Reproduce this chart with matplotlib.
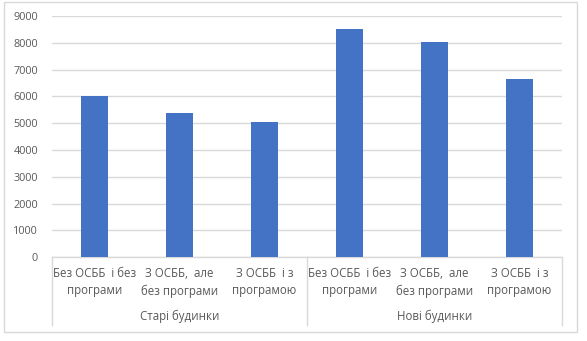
import matplotlib
matplotlib.use("Agg")
import matplotlib.pyplot as plt
from matplotlib.patches import Rectangle
from matplotlib.lines import Line2D
import matplotlib.transforms as mtransforms

plt.rcParams['font.family'] = ['Open Sans', 'DejaVu Sans']

categories = ["Без ОСББ  і без\nпрограми", "З ОСББ,  але\nбез програми", "З ОСББ  і з\nпрограмою"] * 2
groups = ["Старі будинки", "Нові будинки"]
values = [6010, 5400, 5040, 8530, 8020, 6650]
yticks = list(range(0, 9001, 1000))

W, H = 587, 341
fig = plt.figure(figsize=(W / 100, H / 100), dpi=100)

def fx(px):
    return px / W

def fy(py):
    return 1 - py / H

ax = fig.add_axes([fx(52), fy(257.3), fx(562) - fx(52), fy(16) - fy(257.3)])

grey = "#d9d9d9"
text_col = "#595959"
bar_col = "#4472c4"

x = list(range(len(values)))
ax.bar(x, values, width=0.31, color=bar_col, zorder=3)
ax.set_xlim(-0.5, len(values) - 0.5)
ax.set_ylim(0, 9000)
ax.set_yticks(yticks)
ax.set_yticklabels([str(v) for v in yticks], color=text_col, fontsize=7.8)
ax.tick_params(axis='y', length=0, pad=10)
ax.yaxis.grid(True, color=grey, linewidth=1)
ax.set_axisbelow(True)
for side in ["top", "right", "left"]:
    ax.spines[side].set_visible(False)
ax.spines["bottom"].set_color(grey)
ax.spines["bottom"].set_linewidth(1)

ax.set_xticks(x)
ax.set_xticklabels(categories, color=text_col, fontsize=8.3, linespacing=1.4)
ax.tick_params(axis='x', length=0, pad=7)

# group labels and separators below the axis
trans = mtransforms.blended_transform_factory(ax.transData, fig.transFigure)
for i, g in enumerate(groups):
    ax.text(i * 3 + 1, fy(316), g, transform=trans, ha='center', va='center',
            color=text_col, fontsize=8.3)
for xb in [-0.5, 2.5, 5.5]:
    fig.add_artist(Line2D([xb, xb], [fy(257.3), fy(325)], transform=trans,
                          color=grey, linewidth=1))

fig.add_artist(Rectangle((fx(4), fy(332)), fx(577) - fx(4), fy(2) - fy(332),
                         transform=fig.transFigure, fill=False,
                         edgecolor=grey, linewidth=1))

fig.savefig("out.png", dpi=100)
